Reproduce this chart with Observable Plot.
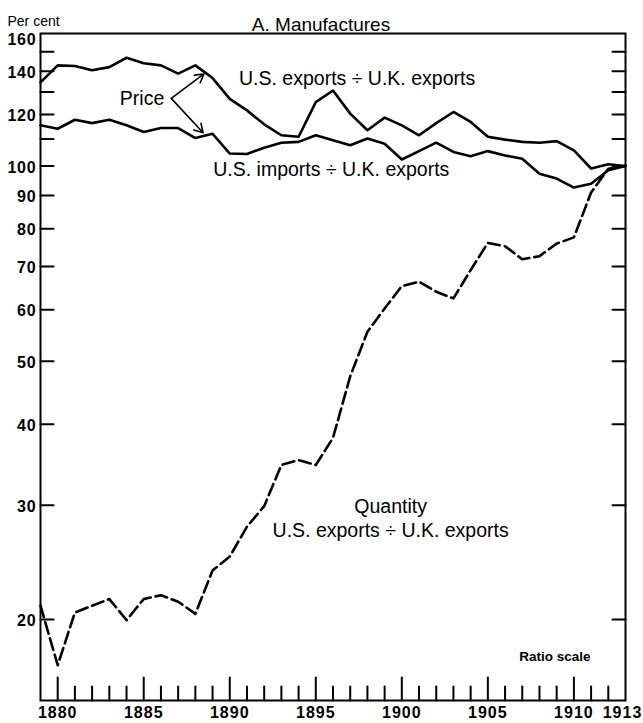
<!DOCTYPE html>
<html>
<head>
<meta charset="utf-8">
<script src="https://cdn.jsdelivr.net/npm/d3@7"></script>
<script src="https://cdn.jsdelivr.net/npm/@observablehq/plot@0.6"></script>
<style>
  html, body { margin: 0; padding: 0; background: white; }
</style>
</head>
<body>
<div id="chart"></div>
<script>
const years = [1879,1880,1881,1882,1883,1884,1885,1886,1887,1888,1889,1890,1891,1892,1893,1894,1895,1896,1897,1898,1899,1900,1901,1902,1903,1904,1905,1906,1907,1908,1909,1910,1911,1912,1913];
const priceExports = [134.5,142.9,142.6,140.4,142.0,146.8,144.0,142.9,138.8,142.9,136.6,126.9,121.8,115.9,111.5,110.9,125.4,130.7,120.4,113.5,118.7,115.5,111.5,116.4,121.1,116.9,110.9,109.8,108.9,108.6,109.2,105.7,99.1,100.6,100];
const priceImports = [115.5,114.1,117.8,116.4,117.8,115.5,112.8,114.4,114.4,110.4,112.1,104.5,104.3,106.7,108.6,108.9,111.5,109.5,107.6,110.2,108.2,102.3,105.4,108.6,105.1,103.5,105.4,103.8,102.6,97.3,95.6,92.6,93.9,98.5,100];
const quantity = [21.0,17.0,20.5,21.0,21.5,19.95,21.5,21.8,21.3,20.4,23.8,25.0,27.8,29.9,34.6,35.2,34.6,38.1,47.4,55.5,60.3,65.3,66.3,64.0,62.5,69.1,76.1,75.2,71.8,72.6,75.9,77.6,91,99,100];

const yTopLabel = [160];
const yLabelTicks = [140,120,100,90,80,70,60,50,40,30,20];
const yTickMarks = [150,140,130,120,110,100,90,80,70,60,50,40,30,20];
const xLabelTicks = [1880,1885,1890,1895,1900,1905,1910];
const xEndLabel = [1913];
const xMajorTicks = [1880,1885,1890,1895,1900,1905,1910];
const xMinorTicks = [1881,1882,1883,1884,1886,1887,1888,1889,1891,1892,1893,1894,1896,1897,1898,1899,1901,1902,1903,1904,1906,1907,1908,1909,1911,1912];

const title = "A. Manufactures";
const unitLabel = "Per cent";
const labels = [
  {text: "U.S. exports ÷ U.K. exports", x: 1897.4, y: 136.4},
  {text: "Price", x: 1884.9, y: 127.1},
  {text: "U.S. imports ÷ U.K. exports", x: 1895.9, y: 98.6},
  {text: "Quantity", x: 1899.35, y: 29.85},
  {text: "U.S. exports ÷ U.K. exports", x: 1899.35, y: 27.4},
];
const ratioLabel = {text: "Ratio scale", x: 1908.9, y: 17.5};
const arrows = [
  {x1: 1886.6, y1: 127.1, x2: 1888.5, y2: 138.6},
  {x1: 1886.6, y1: 127.1, x2: 1888.45, y2: 112.5},
];

const rows = years.map((year, i) => ({year, pe: priceExports[i], pi: priceImports[i], q: quantity[i]}));

const tickShape = {draw(context, l) { context.moveTo(0, 0); context.lineTo(0, -l); }};
const font = "'Liberation Sans', Arial, sans-serif";
const yAxisOpts = {tickSize: 0, tickPadding: 4, tickFormat: d => String(d), fontSize: 16, fontWeight: 600, label: null};
const xAxisOpts = {tickSize: 0, tickPadding: 6, tickFormat: d => String(d), fontSize: 16, fontWeight: 600, label: null};

const chart = Plot.plot({
  width: 643,
  height: 723,
  marginLeft: 40,
  marginRight: 18,
  marginTop: 33,
  marginBottom: 23,
  style: {fontFamily: font, fontSize: "15px", background: "white", color: "black"},
  x: {domain: [1879, 1913]},
  y: {type: "log", domain: [15, 160]},
  marks: [
    Plot.frame({stroke: "black", strokeWidth: 2}),
    Plot.axisY({...yAxisOpts, ticks: yLabelTicks, dy: 1.5}),
    Plot.axisY({...yAxisOpts, ticks: yTopLabel, dy: 6}),
    Plot.axisX({...xAxisOpts, ticks: xLabelTicks}),
    Plot.axisX({...xAxisOpts, ticks: xEndLabel, dx: -3}),
    Plot.vector(yTickMarks, {y: d => d, frameAnchor: "left", length: 13, rotate: 90, anchor: "start", shape: tickShape, stroke: "black", strokeWidth: 2}),
    Plot.vector(yTickMarks, {y: d => d, frameAnchor: "right", length: 13, rotate: -90, anchor: "start", shape: tickShape, stroke: "black", strokeWidth: 2}),
    Plot.vector(xMajorTicks, {x: d => d, frameAnchor: "bottom", length: 23, rotate: 0, anchor: "start", shape: tickShape, stroke: "black", strokeWidth: 2}),
    Plot.vector(xMinorTicks, {x: d => d, frameAnchor: "bottom", length: 14, rotate: 0, anchor: "start", shape: tickShape, stroke: "black", strokeWidth: 2}),
    Plot.line(rows, {x: "year", y: "pe", stroke: "black", strokeWidth: 2.6}),
    Plot.line(rows, {x: "year", y: "pi", stroke: "black", strokeWidth: 2.6}),
    Plot.line(rows, {x: "year", y: "q", stroke: "black", strokeWidth: 2.6, strokeDasharray: "12,5"}),
    Plot.arrow(arrows, {x1: "x1", y1: "y1", x2: "x2", y2: "y2", stroke: "black", strokeWidth: 1.6, headLength: 9}),
    Plot.text(labels, {x: "x", y: "y", text: "text", fontSize: 19.5, fill: "black", ariaLabel: "series-labels"}),
    Plot.text([ratioLabel], {x: "x", y: "y", text: "text", fontSize: 13.5, fontWeight: "bold", fill: "black", ariaLabel: "ratio-label"}),
    Plot.text([title], {frameAnchor: "top", dx: -12, dy: -16, fontSize: 19, fill: "black", ariaLabel: "title"}),
    Plot.text([unitLabel], {frameAnchor: "top-left", dx: -33, dy: -17, textAnchor: "start", fontSize: 14, fill: "black", ariaLabel: "unit"}),
  ]
});
const sel = d3.select(chart);
sel.selectAll("g[aria-label='series-labels'] text").attr("letter-spacing", "2.2px");
sel.selectAll("g[aria-label='title'] text").attr("letter-spacing", "1.2px");
sel.selectAll("g[aria-label='ratio-label'] text").attr("letter-spacing", "0.4px");
sel.selectAll("g[aria-label='unit'] text").attr("letter-spacing", "0.8px");
sel.selectAll("g[aria-label='y-axis tick label'] text").attr("letter-spacing", "0.8px");
sel.selectAll("g[aria-label='x-axis tick label'] text").attr("letter-spacing", "1px");
document.getElementById("chart").appendChild(chart);
</script>
</body>
</html>
